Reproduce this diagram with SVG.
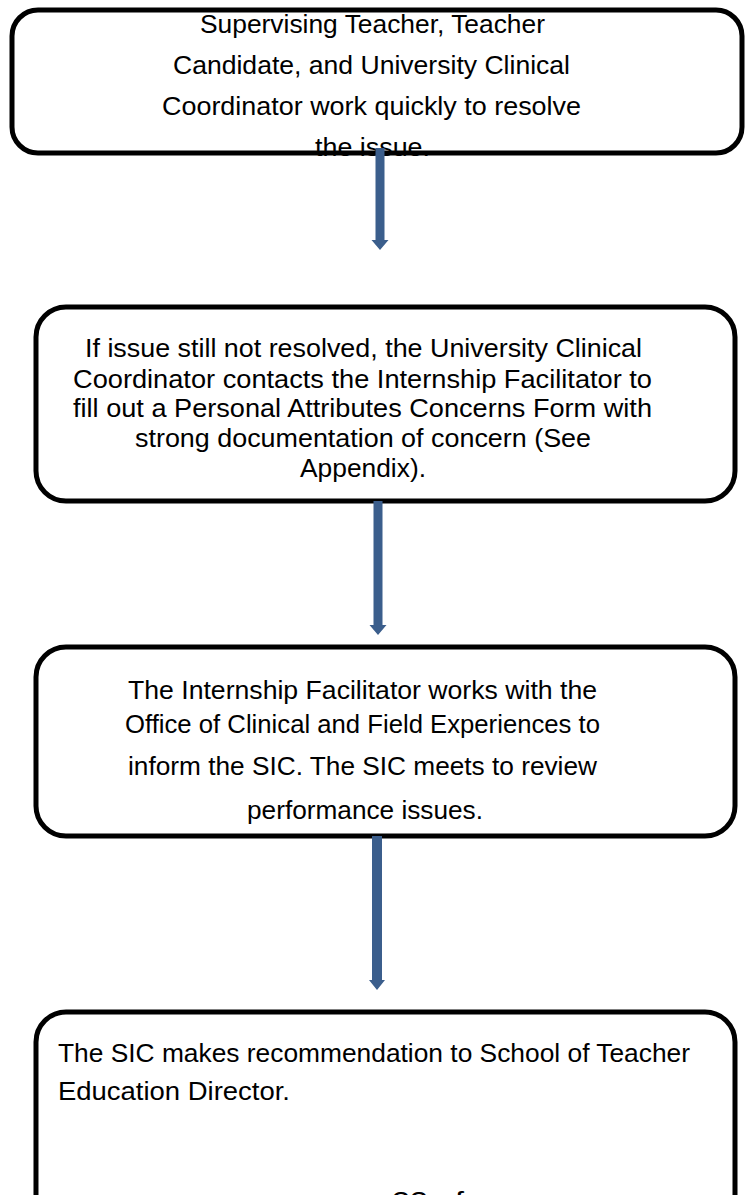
<svg xmlns="http://www.w3.org/2000/svg" width="746" height="1195" viewBox="0 0 746 1195">
<style>
.box{fill:#ffffff;stroke:#000000;stroke-width:5}
.t{font-family:"Liberation Sans",Arial,sans-serif;font-size:25px;fill:#000000}
.c{text-anchor:start}
.arr{fill:#3B5E8C;stroke:none}
</style>
<rect width="746" height="1195" fill="#ffffff"/>
<g id="node1">
<rect class="box" x="12" y="10" width="730" height="143" rx="26" ry="26"/>
<text class="t" x="200" y="33" textLength="345" lengthAdjust="spacingAndGlyphs">Supervising Teacher, Teacher</text>
<text class="t" x="173" y="74" textLength="397" lengthAdjust="spacingAndGlyphs">Candidate, and University Clinical</text>
<text class="t" x="162" y="115" textLength="419" lengthAdjust="spacingAndGlyphs">Coordinator work quickly to resolve</text>
<text class="t" x="315" y="156" textLength="115" lengthAdjust="spacingAndGlyphs">the issue.</text>
</g>
<g id="node2">
<rect class="box" x="36" y="307" width="699" height="194" rx="30" ry="30"/>
<text class="t" x="85" y="357" textLength="557" lengthAdjust="spacingAndGlyphs">If issue still not resolved, the University Clinical</text>
<text class="t" x="73" y="388" textLength="579" lengthAdjust="spacingAndGlyphs">Coordinator contacts the Internship Facilitator to</text>
<text class="t" x="73" y="417" textLength="579" lengthAdjust="spacingAndGlyphs">fill out a Personal Attributes Concerns Form with</text>
<text class="t" x="135" y="447" textLength="456" lengthAdjust="spacingAndGlyphs">strong documentation of concern (See</text>
<text class="t" x="300" y="477" textLength="126" lengthAdjust="spacingAndGlyphs">Appendix).</text>
</g>
<g id="node3">
<rect class="box" x="36" y="647" width="699" height="189" rx="30" ry="30"/>
<text class="t" x="128" y="699" textLength="469" lengthAdjust="spacingAndGlyphs">The Internship Facilitator works with the</text>
<text class="t" x="125" y="733" textLength="475" lengthAdjust="spacingAndGlyphs">Office of Clinical and Field Experiences to</text>
<text class="t" x="128" y="775" textLength="469" lengthAdjust="spacingAndGlyphs">inform the SIC. The SIC meets to review</text>
<text class="t" x="247" y="819" textLength="236" lengthAdjust="spacingAndGlyphs">performance issues.</text>
</g>
<g id="node4">
<rect class="box" x="36" y="1012" width="699" height="230" rx="30" ry="30"/>
<text class="t" x="58" y="1062" textLength="632" lengthAdjust="spacingAndGlyphs">The SIC makes recommendation to School of Teacher</text>
<text class="t" x="58" y="1100" textLength="232" lengthAdjust="spacingAndGlyphs">Education Director.</text>
</g>
<g id="connectors">
<path class="arr" d="M375.5,148 L384.5,148 L384.5,240 L388.5,240 L380,250 L371.5,240 L375.5,240 Z"/>
<path class="arr" d="M373.5,501 L382.5,501 L382.5,625 L386.5,625 L378,635 L369.5,625 L373.5,625 Z"/>
<path class="arr" d="M372,836 L382,836 L382,980 L385,980 L377,990 L369,980 L372,980 Z"/>
</g>
<text class="t" x="392" y="1210" textLength="72" lengthAdjust="spacingAndGlyphs">33 of</text>
</svg>
